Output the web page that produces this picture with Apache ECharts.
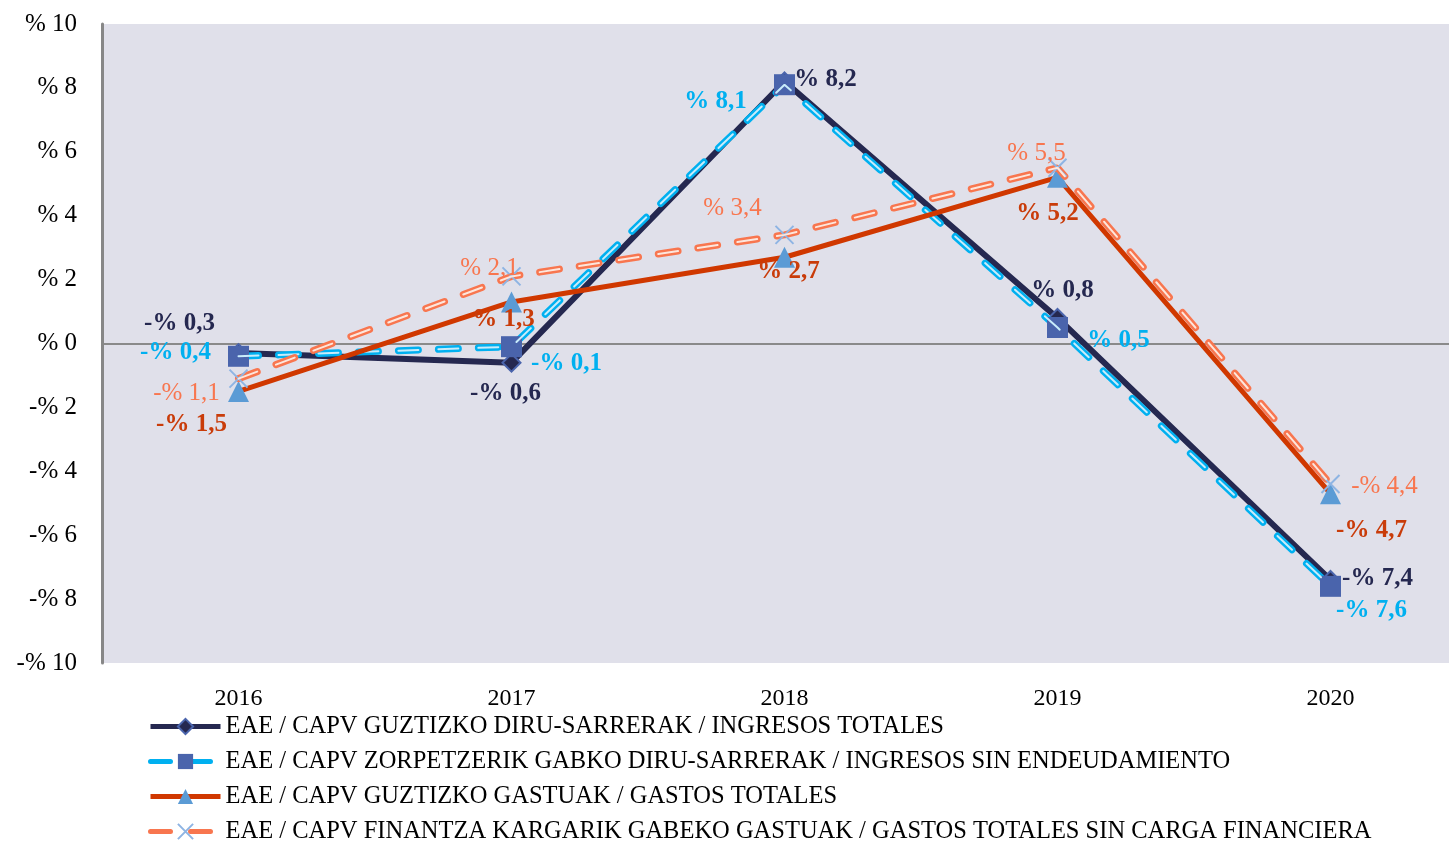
<!DOCTYPE html>
<html>
<head>
<meta charset="utf-8">
<script src="https://cdn.jsdelivr.net/npm/echarts@6/dist/echarts.min.js"></script>
<style>
  html, body { margin: 0; padding: 0; background: #fff; }
  #chart { width: 1449px; height: 843px; }
</style>
</head>
<body>
<div id="chart"></div>
<script>
var years = ["2016", "2017", "2018", "2019", "2020"];
var ingresosTotales = [-0.3, -0.6, 8.2, 0.8, -7.4];
var ingresosSinEnd = [-0.4, -0.1, 8.1, 0.5, -7.6];
var gastosTotales = [-1.5, 1.3, 2.7, 5.2, -4.7];
var gastosSinCarga = [-1.1, 2.1, 3.4, 5.5, -4.4];
var yTicks = [-10, -8, -6, -4, -2, 0, 2, 4, 6, 8, 10];

var names = [
    "EAE / CAPV GUZTIZKO DIRU-SARRERAK / INGRESOS TOTALES",
    "EAE / CAPV ZORPETZERIK GABKO DIRU-SARRERAK / INGRESOS SIN ENDEUDAMIENTO",
    "EAE / CAPV GUZTIZKO GASTUAK / GASTOS TOTALES",
    "EAE / CAPV FINANTZA KARGARIK GABEKO GASTUAK / GASTOS TOTALES SIN CARGA FINANCIERA"
];

// desplazamiento de cada etiqueta respecto a su punto
var offs1 = [[-59, -30], [-6, 31], [41, -2], [5, -27], [47, -1]];
var offs2 = [[-63, -4], [55, 17], [-69, 17], [61, 13], [41, 24]];
var offs3 = [[-47, 33], [-8, 18], [4, 14], [-10, 36], [41, 37]];
var offs4 = [[-52, 15], [-22, -8], [-52, -26], [-21, -14], [54, 2]];

var FONT = "Liberation Serif";

function pct(v) {
    var s = Math.abs(v).toFixed(1).replace(".", ",");
    return (v < 0 ? "-% " : "% ") + s;
}

function pctAxis(v) {
    return (v < 0 ? "-% " : "% ") + Math.abs(v);
}

function buildData(values, offs, color, bold) {
    return values.map(function (v, i) {
        return {
            value: v,
            label: {
                show: true,
                position: "inside",
                offset: offs[i],
                formatter: function (p) { return pct(p.value); },
                color: color,
                fontFamily: FONT,
                fontSize: 25,
                fontWeight: bold ? "bold" : "normal"
            }
        };
    });
}

var myChart = echarts.init(document.getElementById("chart"));

var dash = [20, 20];

var option = {
    animation: false,
    grid: {
        left: 102,
        top: 24,
        width: 1365,
        height: 639,
        outerBoundsMode: "none",
        show: true,
        backgroundColor: "#E0E0EA",
        borderWidth: 0
    },
    legend: {
        orient: "vertical",
        left: 143,
        top: 709,
        height: 200,
        itemWidth: 70,
        itemHeight: 19,
        itemGap: 10,
        data: names,
        lineStyle: { width: 5 },
        textStyle: { fontFamily: FONT, fontSize: 24.5, color: "#000", lineHeight: 24 }
    },
    xAxis: {
        type: "category",
        data: years,
        axisLine: { show: false },
        axisTick: { show: false },
        axisLabel: { fontFamily: FONT, fontSize: 24, color: "#000", margin: 24 }
    },
    yAxis: {
        type: "value",
        min: -10,
        max: 10,
        interval: 2,
        axisLine: { show: true, lineStyle: { color: "#878787", width: 3 } },
        axisTick: { show: false },
        axisLabel: {
            fontFamily: FONT, fontSize: 25, color: "#000", margin: 25,
            formatter: pctAxis
        },
        splitLine: {
            show: true,
            lineStyle: {
                width: 2,
                color: yTicks.map(function (t) { return t === 0 ? "#8a8a8a" : "rgba(0,0,0,0)"; })
            }
        }
    },
    series: [
        {
            name: names[0],
            type: "line",
            z: 2,
            data: buildData(ingresosTotales, offs1, "#252850", true),
            lineStyle: { color: "#252850", width: 6 },
            symbol: "diamond",
            symbolSize: 18,
            itemStyle: { color: "#252850", borderColor: "#4A64AC", borderWidth: 2 }
        },
        {
            name: names[1],
            type: "line",
            z: 3,
            data: buildData(ingresosSinEnd, offs2, "#00B0F0", true),
            lineStyle: { color: "#00B0F0", width: 7, type: dash, cap: "round" },
            symbol: "rect",
            symbolSize: 21,
            itemStyle: { color: "#4A64AC", borderWidth: 0 }
        },
        {
            name: "s2inner",
            type: "line",
            z: 4,
            data: ingresosSinEnd,
            lineStyle: { color: "#C8ECFB", width: 2, type: dash, cap: "round" },
            symbol: "none",
            silent: true
        },
        {
            name: names[2],
            type: "line",
            z: 5,
            data: buildData(gastosTotales, offs3, "#C93C0A", true),
            lineStyle: { color: "#D03800", width: 5 },
            symbol: "triangle",
            symbolSize: 21,
            itemStyle: { color: "#5B9BD5", borderWidth: 0 }
        },
        {
            name: names[3],
            type: "line",
            z: 6,
            data: buildData(gastosSinCarga, offs4, "#F8764F", false),
            lineStyle: { color: "#F8764F", width: 7, type: dash, cap: "round" },
            symbol: "path://M0,0L10,10M10,0L0,10",
            symbolSize: 18,
            itemStyle: { color: "none", borderColor: "#8EB4E3", borderWidth: 2 }
        },
        {
            name: "s4inner",
            type: "line",
            z: 7,
            data: gastosSinCarga,
            lineStyle: { color: "#FDE6DC", width: 2, type: dash, cap: "round" },
            symbol: "none",
            silent: true
        }
    ]
};

myChart.setOption(option);
</script>
</body>
</html>
